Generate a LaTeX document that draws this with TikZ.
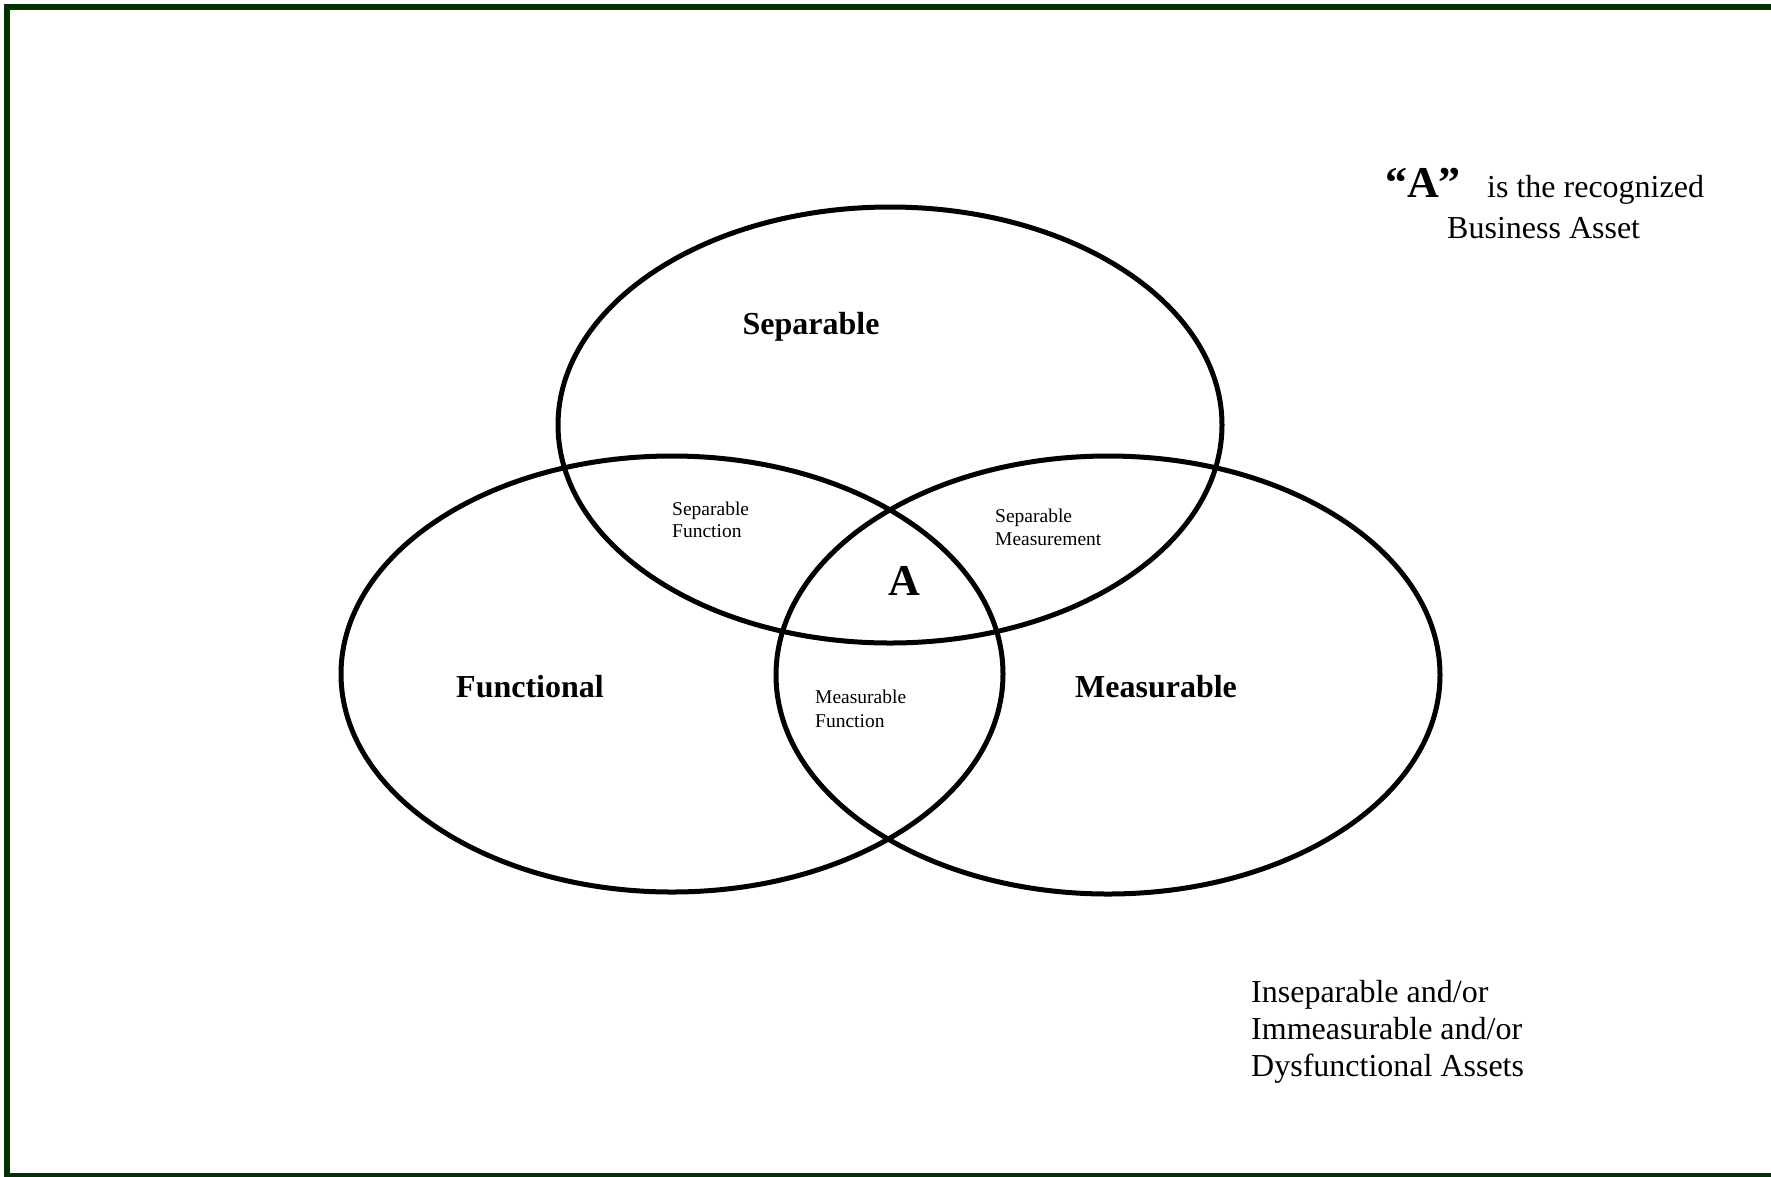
\documentclass[tikz,border=0pt]{standalone}
\usepackage{fontspec}
\setmainfont{Liberation Serif}
\definecolor{frame}{RGB}{0,51,0}
\begin{document}
\begin{tikzpicture}[x=1pt,y=-1pt,
  circ/.style={draw=black,line width=5pt},
  big/.style={inner sep=0pt,font=\fontsize{32}{37}\selectfont},
  bigbold/.style={inner sep=0pt,font=\fontsize{32}{37}\selectfont\bfseries},
  small/.style={inner sep=0pt,anchor=base west,font=\fontsize{19.5}{22}\selectfont}]
\useasboundingbox (0,0) rectangle (1771,1176);
\begin{scope}
\clip (0,0) rectangle (1771,1176);
\draw[frame,line width=6.5pt] (7,7) rectangle (1790,1176);
\end{scope}
% ellipses
\draw[circ] (890,425) ellipse [x radius=332,y radius=218];
\draw[circ] (672,674) ellipse [x radius=331,y radius=218];
\draw[circ] (1108,675) ellipse [x radius=332,y radius=219];
% main labels
\node[bigbold,anchor=base] (sep) at (811,334) {Separable};
\node[bigbold,anchor=base] (fun) at (530,697) {Functional};
\node[bigbold,anchor=base] (mea) at (1156,697) {Measurable};
\node[inner sep=0pt,anchor=base,font=\fontsize{44}{48}\selectfont\bfseries] (a) at (904.5,595) {A};
% intersection labels
\node[small] (sf1) at (672,515) {Separable};
\node[small] (sf2) at (672,537) {Function};
\node[small] (sm1) at (995,522) {Separable};
\node[small] (sm2) at (995,545) {Measurement};
\node[small] (mf1) at (815,703) {Measurable};
\node[small] (mf2) at (815,727) {Function};
% legend
\node[inner sep=0pt,anchor=base west,font=\fontsize{44}{48}\selectfont\bfseries] (qa) at (1385,197) {“A”};
\node[big,anchor=base west] (rec) at (1487,197) {is the recognized};
\node[big,anchor=base west] (ba) at (1447,238) {Business Asset};
\node[big,anchor=base west] (in1) at (1251,1002) {Inseparable and/or};
\node[big,anchor=base west] (in2) at (1251,1039) {Immeasurable and/or};
\node[big,anchor=base west] (in3) at (1251,1076) {Dysfunctional Assets};
\end{tikzpicture}
\end{document}
